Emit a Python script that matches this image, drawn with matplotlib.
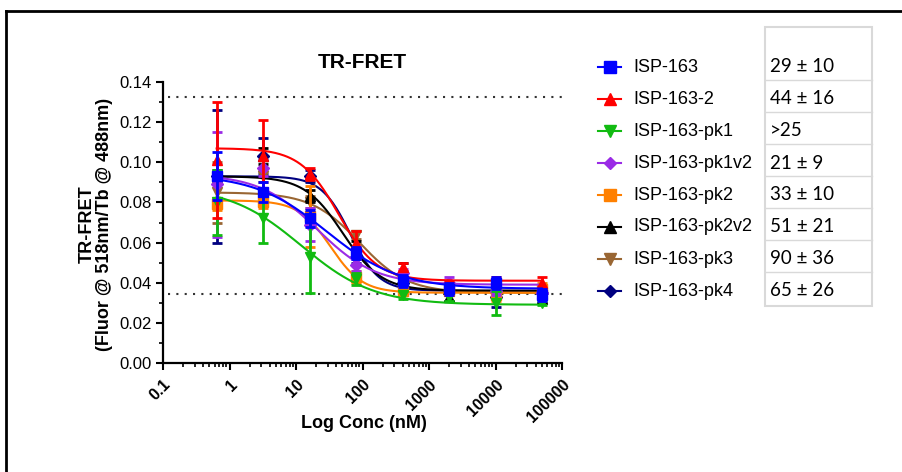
import matplotlib

matplotlib.use('Agg')

import matplotlib.pyplot as plt
import numpy as np
from matplotlib.lines import Line2D
from matplotlib.patches import Rectangle
from matplotlib.ticker import LogLocator, MultipleLocator, FixedLocator

plt.rcParams['font.family'] = ['Liberation Sans', 'DejaVu Sans']

# concentrations (nM)
conc = [0.64, 3.2, 16, 80, 400, 2000, 10000, 50000]

names = ['ISP-163', 'ISP-163-2', 'ISP-163-pk1', 'ISP-163-pk1v2',
         'ISP-163-pk2', 'ISP-163-pk2v2', 'ISP-163-pk3', 'ISP-163-pk4']
ic50_text = ['29 \u00b1 10', '44 \u00b1 16', '>25', '21 \u00b1 9',
             '33 \u00b1 10', '51 \u00b1 21', '90 \u00b1 36', '65 \u00b1 26']
colors = ['#0000FF', '#FF0000', '#11BB11', '#9A2BE6',
          '#FF8000', '#000000', '#996633', '#000080']
markers = ['s', '^', 'v', 'D', 's', '^', 'v', 'D']

isp163 = [0.093, 0.085, 0.072, 0.055, 0.041, 0.037, 0.040, 0.034]
isp163_2 = [0.101, 0.103, 0.094, 0.060, 0.048, 0.039, 0.041, 0.040]
pk1 = [0.080, 0.072, 0.053, 0.042, 0.034, 0.033, 0.030, 0.030]
pk1v2 = [0.089, 0.097, 0.069, 0.049, 0.045, 0.040, 0.036, 0.035]
pk2 = [0.079, 0.080, 0.073, 0.043, 0.036, 0.036, 0.034, 0.037]
pk2v2 = [0.093, 0.103, 0.083, 0.058, 0.043, 0.033, 0.038, 0.032]
pk3 = [0.085, 0.093, 0.080, 0.064, 0.043, 0.037, 0.035, 0.035]
pk4 = [0.093, 0.103, 0.093, 0.053, 0.040, 0.036, 0.033, 0.035]

isp163_sd = [0.012, 0.005, 0.004, 0.003, 0.003, 0.003, 0.003, 0.003]
isp163_2_sd = [0.029, 0.018, 0.003, 0.006, 0.002, 0.002, 0.002, 0.003]
pk1_sd = [0.016, 0.012, 0.018, 0.003, 0.002, 0.002, 0.006, 0.001]
pk1v2_sd = [0.026, 0.004, 0.008, 0.003, 0.002, 0.003, 0.002, 0.002]
pk2_sd = [0.003, 0.003, 0.015, 0.003, 0.002, 0.002, 0.003, 0.003]
pk2v2_sd = [0.003, 0.004, 0.003, 0.003, 0.007, 0.002, 0.004, 0.002]
pk3_sd = [0.015, 0.003, 0.003, 0.002, 0.002, 0.002, 0.002, 0.002]
pk4_sd = [0.033, 0.009, 0.003, 0.003, 0.003, 0.002, 0.005, 0.002]

# four-parameter fit: top, bottom, IC50 (nM), hill slope
fit_top = [0.094, 0.107, 0.088, 0.094, 0.081, 0.093, 0.085, 0.093]
fit_bottom = [0.037, 0.041, 0.029, 0.039, 0.035, 0.036, 0.035, 0.036]
fit_ic50 = [29, 44, 12, 21, 33, 51, 90, 65]
fit_hill = [0.8, 1.5, 0.8, 1.0, 1.8, 1.5, 1.2, 2.0]

means = [isp163, isp163_2, pk1, pk1v2, pk2, pk2v2, pk3, pk4]
sds = [isp163_sd, isp163_2_sd, pk1_sd, pk1v2_sd, pk2_sd, pk2v2_sd, pk3_sd, pk4_sd]

W, H = 902, 472
fx = lambda p: p / W
fy = lambda p: 1 - p / H

fig = plt.figure(figsize=(9.02, 4.72), dpi=100)
ax = fig.add_axes([fx(163), fy(363), fx(562) - fx(163), fy(82) - fy(363)])

xs = np.logspace(np.log10(conc[0]), np.log10(conc[-1]), 300)
for i in range(len(names)):
    z = 10 - i
    curve = fit_bottom[i] + (fit_top[i] - fit_bottom[i]) / (1 + (xs / fit_ic50[i]) ** fit_hill[i])
    ax.plot(xs, curve, color=colors[i], lw=1.5, zorder=z)
    ms = 6 if markers[i] == 'D' else 7.5
    ax.errorbar(conc, means[i], yerr=sds[i], fmt=markers[i], color=colors[i],
                ms=ms, elinewidth=2, capsize=3.5, capthick=2, zorder=z + 0.5)

ax.axhline(0.1325, xmin=0.012, xmax=1, color='#333333', ls=(0, (1, 3)), lw=1.5, zorder=1)
ax.axhline(0.0345, xmin=0.012, xmax=1, color='#333333', ls=(0, (1, 3)), lw=1.5, zorder=1)

ax.set_xscale('log')
ax.set_xlim(0.1, 100000)
ax.set_ylim(0, 0.14)
ax.xaxis.set_major_locator(FixedLocator([0.1, 1, 10, 100, 1000, 10000, 100000]))
ax.xaxis.set_minor_locator(LogLocator(base=10, subs=np.arange(2, 10)))
ax.set_xticklabels(['0.1', '1', '10', '100', '1000', '10000', '100000'],
                   rotation=45, ha='right', va='top', rotation_mode='anchor',
                   fontsize=11.5, fontweight='bold')
ax.yaxis.set_minor_locator(MultipleLocator(0.01))
ax.set_yticks(np.arange(0, 0.141, 0.02))
ax.set_yticklabels(['%.2f' % v for v in np.arange(0, 0.141, 0.02)], fontsize=12)

for s in ['top', 'right']:
    ax.spines[s].set_visible(False)
for s in ['left', 'bottom']:
    ax.spines[s].set_linewidth(1.6)
ax.tick_params(which='major', length=5, width=1.5, direction='out', pad=3)
ax.tick_params(axis='x', which='major', pad=5)
ax.tick_params(which='minor', length=3, width=1.2, direction='out')

fig.text(fx(362), fy(62), 'TR-FRET', ha='center', va='center', fontsize=15, fontweight='bold')
fig.text(fx(364), fy(424), 'Log Conc (nM)', ha='center', va='center', fontsize=13, fontweight='bold')
fig.text(fx(96), fy(224), 'TR-FRET\n(Fluor @ 518nm/Tb @ 488nm)', rotation=90,
         ha='center', va='center', multialignment='center', fontsize=13,
         fontweight='bold', linespacing=1.05)

# legend drawn by hand
row_y = [67 + 32 * i for i in range(len(names))]
for i in range(len(names)):
    yy = fy(row_y[i])
    fig.add_artist(Line2D([fx(598), fx(621)], [yy, yy], color=colors[i], lw=1.5))
    ms = 6.5 if markers[i] == 'D' else 8
    fig.add_artist(Line2D([fx(609.5)], [yy], marker=markers[i], color=colors[i], ms=ms, lw=0))
    fig.text(fx(633), yy, names[i], ha='left', va='center', fontsize=13)

# IC50 table
grey = '#D9D9D9'
fig.add_artist(Rectangle((fx(765), fy(306)), fx(872) - fx(765), fy(27) - fy(306),
                         fill=False, ec=grey, lw=1.5))
for k in range(1, len(names)):
    yy = fy(80 + 32 * (k - 1))
    fig.add_artist(Line2D([fx(765), fx(872)], [yy, yy], color=grey, lw=1.0))
for i in range(len(names)):
    fig.text(fx(770), fy(row_y[i]), ic50_text[i], ha='left', va='center',
             fontsize=13.5, family=['Lato', 'DejaVu Sans'])

# outer frame
fig.add_artist(Line2D([fx(6), fx(902)], [fy(11), fy(11)], color='black', lw=2))
fig.add_artist(Line2D([fx(6), fx(6)], [fy(11), fy(472)], color='black', lw=2))

fig.savefig('out.png', dpi=100)
